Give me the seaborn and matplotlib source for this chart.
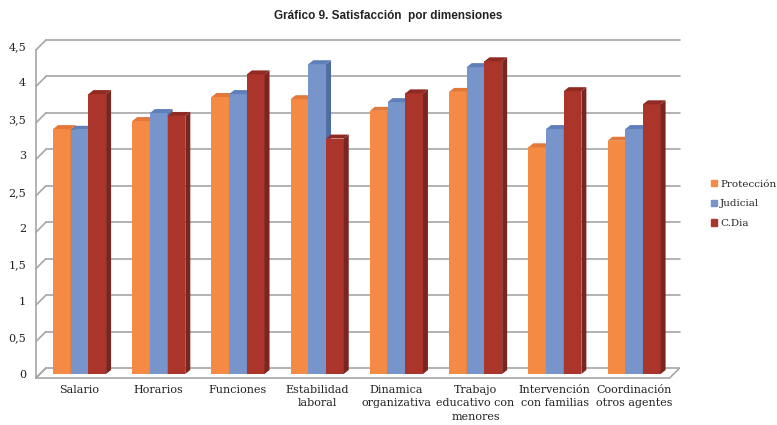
"""
Gráfico 9: satisfacción por dimensiones (barras con efecto 3D estilo Excel)
"""

import pandas as pd
import matplotlib.pyplot as plt
import matplotlib.patches as mpatches
import matplotlib.transforms as mtransforms
import seaborn as sns

# ---- datos ----
categorias = ['Salario', 'Horarios', 'Funciones', 'Estabilidad\nlaboral',
              'Dinamica\norganizativa', 'Trabajo\neducativo con\nmenores',
              'Intervención\ncon familias', 'Coordinación\notros agentes']
series = ['Protección', 'Judicial', 'C.Dia']
proteccion = [3.36, 3.47, 3.80, 3.77, 3.61, 3.87, 3.11, 3.20]
judicial = [3.35, 3.58, 3.84, 4.25, 3.73, 4.21, 3.36, 3.36]
cdia = [3.84, 3.54, 4.11, 3.23, 3.85, 4.29, 3.88, 3.70]
y_ticks = [0, 0.5, 1, 1.5, 2, 2.5, 3, 3.5, 4, 4.5]
y_labels = ['0', '0,5', '1', '1,5', '2', '2,5', '3', '3,5', '4', '4,5']

colores = ['#F58A45', '#7795CB', '#AB352B']
laterales = ['#C9662A', '#506DA3', '#7A2620']
techos = ['#E2793A', '#5F7FB8', '#902B23']

df = pd.DataFrame({
    'dimension': categorias * 3,
    'grupo': [s for s in series for _ in categorias],
    'valor': proteccion + judicial + cdia,
})

sns.set_style('white')
serif = ['DejaVu Serif']

fig = plt.figure(figsize=(7.77, 4.25), dpi=100)
ax = fig.add_axes([0.0514, 0.12, 0.8156, 0.7718])

sns.barplot(data=df, x='dimension', y='valor', hue='grupo', order=categorias,
            hue_order=series, palette=colores, width=0.67, saturation=1,
            linewidth=0, ax=ax)

ax.set_xlim(-0.5, 7.5)
ax.set_ylim(0, 4.5)
ax.set_xlabel('')
ax.set_ylabel('')
ax.set_yticks(y_ticks)
ax.set_yticklabels(y_labels, family=serif, fontsize=8, color='#222222')
ax.set_xticks(range(len(categorias)))
ax.set_xticklabels(categorias, family=serif, fontsize=8, color='#222222',
                   linespacing=1.4)
ax.tick_params(axis='y', length=0, pad=10)
ax.tick_params(axis='x', length=0, pad=8)
for s in ax.spines.values():
    s.set_visible(False)
ax.patch.set_alpha(0)

# ---- "paredes" 3D: plano frontal y plano del fondo (desplazados en píxeles) ----
FRONT = (-4, -4)
BACK = (6, 6)
gris = '#A6A6A6'


def disp(x, y, off=(0, 0)):
    px, py = ax.transData.transform((x, y))
    return px + off[0], py + off[1]


ident = mtransforms.IdentityTransform()
x0, x1 = ax.get_xlim()

# suelo
suelo = [disp(x0, 0, FRONT), disp(x1, 0, FRONT), disp(x1, 0, BACK), disp(x0, 0, BACK)]
ax.add_patch(mpatches.Polygon(suelo, closed=True, facecolor='white', edgecolor=gris,
                              linewidth=1.2, transform=ident, clip_on=False, zorder=1))

# líneas de cuadrícula en la pared del fondo + diagonales de la pared izquierda
for v in y_ticks[1:]:
    a = disp(x0, v, BACK)
    b = disp(x1, v, BACK)
    ax.plot([a[0], b[0]], [a[1], b[1]], color=gris, lw=1.2, transform=ident,
            clip_on=False, zorder=1)
for v in y_ticks:
    a = disp(x0, v, FRONT)
    b = disp(x0, v, BACK)
    ax.plot([a[0], b[0]], [a[1], b[1]], color=gris, lw=1.2, transform=ident,
            clip_on=False, zorder=1)
a = disp(x0, 0, FRONT)
b = disp(x0, 4.5, FRONT)
ax.plot([a[0], b[0]], [a[1], b[1]], color=gris, lw=1.2, transform=ident,
        clip_on=False, zorder=1)

# ---- profundidad de las barras ----
D = (5, 4)
for k, cont in enumerate(ax.containers):
    for p in cont.patches:
        p.set_zorder(3 + 2 * k)
        bx, w, h = p.get_x(), p.get_width(), p.get_height()
        br = disp(bx + w, 0)
        tl = disp(bx, h)
        tr = disp(bx + w, h)
        lado = [br, tr, (tr[0] + D[0], tr[1] + D[1]), (br[0] + D[0], br[1] + D[1])]
        techo = [tl, tr, (tr[0] + D[0], tr[1] + D[1]), (tl[0] + D[0], tl[1] + D[1])]
        ax.add_patch(mpatches.Polygon(lado, closed=True, facecolor=laterales[k],
                                      edgecolor='none', transform=ident,
                                      clip_on=False, zorder=4 + 2 * k))
        ax.add_patch(mpatches.Polygon(techo, closed=True, facecolor=techos[k],
                                      edgecolor='none', transform=ident,
                                      clip_on=False, zorder=4 + 2 * k))

# ---- leyenda y título ----
handles = [mpatches.Patch(color=c, label=s) for c, s in zip(colores, series)]
ax.legend(handles=handles, loc='center left', bbox_to_anchor=(0.912, 0.52),
          bbox_transform=fig.transFigure, frameon=False,
          prop={'family': serif, 'size': 7.5}, handlelength=0.6, handleheight=0.6,
          handletextpad=0.3, labelspacing=1.05, borderaxespad=0, borderpad=0.2)

fig.text(0.5, 1 - 16 / 425, 'Gráfico 9. Satisfacción  por dimensiones',
         ha='center', va='center', fontsize=8.5, fontweight='bold',
         family=['Liberation Sans Narrow', 'Liberation Sans', 'DejaVu Sans'],
         color='#222222')

fig.savefig('out.png', dpi=100)
